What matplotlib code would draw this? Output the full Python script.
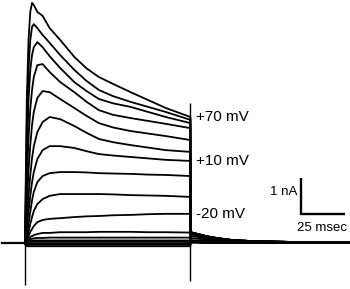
import matplotlib
matplotlib.use("Agg")
import matplotlib.pyplot as plt

# ---------------- data (time in ms, current in nA) ----------------
pre_t = [-13.0, 0.0]
pre_i = [0.0, 0.0]

step_t = [0, 0.5, 1, 2, 3, 4, 5, 7, 10, 14, 20, 28, 35, 42, 50, 60, 70, 80, 94]
tail_t = [94, 98, 102, 106, 110, 118, 130, 150, 185]

voltages = ["+70", "+60", "+50", "+40", "+30", "+20", "+10", "0", "-10", "-20",
            "-30", "-40", "-50", "-60", "-70", "-80", "-90"]

i_p70 = [0, 2.03, 3.97, 5.64, 6.42, 6.67, 6.61, 6.42, 6.31, 5.97, 5.64, 5.17, 4.85, 4.61, 4.42, 4.19, 3.97, 3.75, 3.50]
i_p60 = [0, 1.61, 3.14, 4.81, 5.64, 6.00, 6.08, 5.97, 5.78, 5.56, 5.22, 4.81, 4.50, 4.25, 4.08, 3.92, 3.78, 3.64, 3.42]
i_p50 = [0, 1.19, 2.31, 3.97, 4.81, 5.22, 5.44, 5.58, 5.44, 5.19, 4.86, 4.47, 4.22, 4.00, 3.88, 3.78, 3.64, 3.50, 3.33]
i_p40 = [0, 0.78, 1.61, 2.92, 3.72, 4.25, 4.61, 4.94, 4.97, 4.75, 4.47, 4.19, 3.92, 3.69, 3.56, 3.47, 3.39, 3.31, 3.19]
i_p30 = [0, 0.50, 1.06, 2.03, 2.72, 3.28, 3.64, 4.03, 4.22, 4.19, 4.00, 3.75, 3.53, 3.33, 3.21, 3.11, 3.04, 2.97, 2.86]
i_p20 = [0, 0.31, 0.64, 1.31, 1.89, 2.36, 2.69, 3.08, 3.36, 3.50, 3.44, 3.25, 3.06, 2.89, 2.80, 2.72, 2.65, 2.58, 2.53]
i_p10 = [0, 0.19, 0.42, 0.86, 1.31, 1.69, 1.97, 2.33, 2.58, 2.69, 2.69, 2.64, 2.55, 2.47, 2.43, 2.39, 2.35, 2.31, 2.28]
i_0   = [0, 0.11, 0.22, 0.53, 0.86, 1.19, 1.42, 1.69, 1.86, 1.94, 1.97, 1.97, 1.96, 1.94, 1.93, 1.92, 1.90, 1.89, 1.86]
i_m10 = [0, 0.06, 0.14, 0.31, 0.53, 0.72, 0.89, 1.08, 1.22, 1.31, 1.36, 1.36, 1.36, 1.36, 1.35, 1.33, 1.32, 1.31, 1.28]
i_m20 = [0, 0.03, 0.08, 0.19, 0.31, 0.39, 0.47, 0.58, 0.64, 0.67, 0.69, 0.72, 0.74, 0.75, 0.77, 0.78, 0.80, 0.81, 0.81]
i_m30 = [0, 0.01, 0.06, 0.11, 0.17, 0.19, 0.22, 0.25, 0.28, 0.28, 0.30, 0.30, 0.30, 0.31, 0.31, 0.31, 0.30, 0.30, 0.29]
i_m40 = [0, 0.02, 0.05, 0.09, 0.11, 0.12, 0.13, 0.14, 0.14, 0.15, 0.15, 0.15, 0.15, 0.15, 0.15, 0.15, 0.15, 0.15, 0.15]
i_m50 = [0, 0.04, 0.06, 0.07, 0.07, 0.07, 0.07, 0.07, 0.07, 0.07, 0.07, 0.07, 0.07, 0.07, 0.07, 0.07, 0.07, 0.07, 0.07]
i_m60 = [0, 0.02, 0.03, 0.03, 0.03, 0.03, 0.03, 0.03, 0.03, 0.03, 0.03, 0.03, 0.03, 0.03, 0.03, 0.03, 0.03, 0.03, 0.03]
i_m70 = [0, -0.02, -0.02, -0.02, -0.02, -0.02, -0.02, -0.02, -0.02, -0.02, -0.02, -0.02, -0.02, -0.02, -0.02, -0.02, -0.02, -0.02, -0.02]
i_m80 = [0, -0.05, -0.05, -0.05, -0.05, -0.05, -0.05, -0.05, -0.05, -0.05, -0.05, -0.05, -0.05, -0.05, -0.05, -0.05, -0.05, -0.05, -0.05]
i_m90 = [0, -0.09, -0.09, -0.09, -0.09, -0.09, -0.09, -0.09, -0.09, -0.09, -0.09, -0.09, -0.09, -0.09, -0.09, -0.09, -0.09, -0.09, -0.09]

tail_hi  = [0.30, 0.25, 0.20, 0.16, 0.13, 0.08, 0.05, 0.03, 0.02]
tail_mid = [0.25, 0.21, 0.17, 0.14, 0.11, 0.07, 0.04, 0.03, 0.02]
tail_m10 = [0.20, 0.17, 0.14, 0.11, 0.09, 0.06, 0.04, 0.02, 0.02]
tail_m20 = [0.14, 0.12, 0.10, 0.08, 0.06, 0.04, 0.03, 0.02, 0.01]
tail_m30 = [0.08, 0.07, 0.06, 0.05, 0.04, 0.03, 0.02, 0.01, 0.01]
tail_low = [0.02, 0.02, 0.01, 0.01, 0.01, 0.01, 0.00, 0.00, 0.00]

step_currents = [i_p70, i_p60, i_p50, i_p40, i_p30, i_p20, i_p10, i_0, i_m10, i_m20,
                 i_m30, i_m40, i_m50, i_m60, i_m70, i_m80, i_m90]
tail_currents = [tail_hi, tail_hi, tail_hi, tail_hi, tail_hi, tail_hi, tail_mid, tail_mid,
                 tail_m10, tail_m20, tail_m30, tail_low, tail_low, tail_low, tail_low,
                 tail_low, tail_low]

# capacitive transients at pulse on/off
transient_t = [0, 94]
transient_lo = [-1.18, -1.05]
transient_hi = [0.0, 3.9]

labeled = {"+70": "+70 mV", "+10": "+10 mV", "-20": "-20 mV"}

# scale bar
bar_t0, bar_i0 = 157.0, 0.81
bar_dt, bar_di = 25.0, 1.0

# ---------------- figure ----------------
fig = plt.figure(figsize=(3.5, 2.89), dpi=100)
ax = fig.add_axes([0, 0, 1, 1])
ax.set_xlim(-25 / 1.76, 325 / 1.76)
ax.set_ylim(-46 / 36, 243 / 36)
ax.axis("off")

lw = 1.3
ax.plot(pre_t, pre_i, color="black", lw=1.6)
for v, si, ti in zip(voltages, step_currents, tail_currents):
    ax.plot(step_t + tail_t, si + ti, color="black", lw=lw, solid_joinstyle="round")
    if v in labeled:
        ax.text(97.3, si[-1], labeled[v], fontsize=11, family="Liberation Sans",
                va="center", ha="left")

ax.vlines(transient_t, transient_lo, transient_hi, color="black", lw=1.0)

ax.plot([bar_t0, bar_t0, bar_t0 + bar_dt], [bar_i0 + bar_di, bar_i0, bar_i0],
        color="black", lw=1.7, solid_capstyle="butt", solid_joinstyle="miter")
ax.text(bar_t0 - 2.3, bar_i0 + 0.6, "1 nA", fontsize=9.5, family="Liberation Sans",
        ha="right", va="center")
ax.text(bar_t0 + bar_dt / 2 - 1, bar_i0 - 0.4, "25 msec", fontsize=9.5,
        family="Liberation Sans", ha="center", va="center")

fig.savefig("out.png", dpi=100)
